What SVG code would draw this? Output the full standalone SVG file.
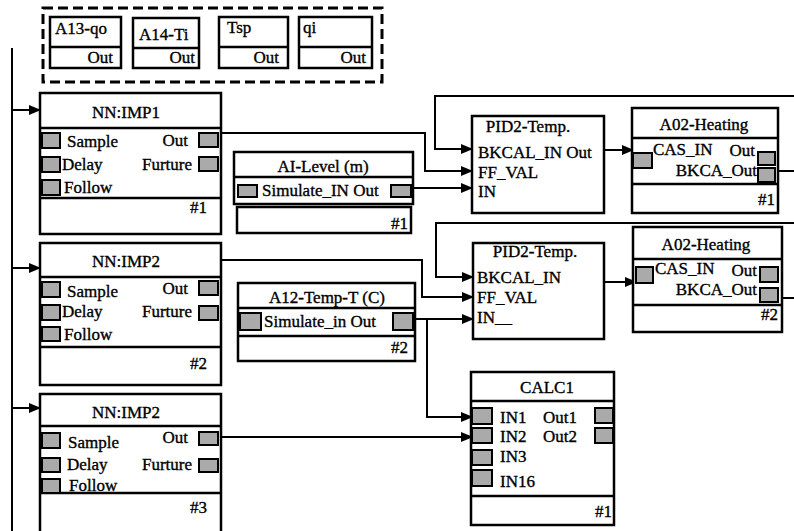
<svg xmlns="http://www.w3.org/2000/svg" width="794" height="531" viewBox="0 0 794 531" font-family="Liberation Serif, Tinos, Times New Roman, DejaVu Serif, serif">
<style>
.box{fill:#fff;stroke:#000;stroke-width:2.5}
.ln{fill:none;stroke:#000;stroke-width:2.5}
.port{fill:#aaa;stroke:#000;stroke-width:2}
.t{font-size:17px;fill:#000;stroke:#000;stroke-width:0.35}
.c{text-anchor:middle}
.r{text-anchor:end}
.wire{fill:none;stroke:#000;stroke-width:2}
.arr{marker-end:url(#ah)}
</style>
<defs>
<marker id="ah" markerWidth="12" markerHeight="10" refX="11" refY="5" orient="auto" markerUnits="userSpaceOnUse"><path d="M0,0 L12,5 L0,10 z" fill="#000"/></marker>
</defs>
<rect width="794" height="531" fill="#fff"/>

<g id="palette">
<rect x="43" y="8" width="339" height="74" fill="none" stroke="#000" stroke-width="3" stroke-dasharray="10,5"/>
<rect class="box" x="50" y="17" width="71" height="51"/><line class="ln" x1="50" y1="47" x2="121" y2="47"/>
<text class="t" x="55" y="34">A13-qo</text><text class="t r" x="113" y="63">Out</text>
<rect class="box" x="133" y="18" width="66" height="50"/><line class="ln" x1="133" y1="48" x2="199" y2="48"/>
<text class="t" x="139" y="40">A14-Ti</text><text class="t r" x="195" y="63">Out</text>
<rect class="box" x="219" y="17" width="69" height="51"/><line class="ln" x1="219" y1="47" x2="288" y2="47"/>
<text class="t" x="227" y="33">Tsp</text><text class="t r" x="279" y="63">Out</text>
<rect class="box" x="299" y="17" width="73" height="51"/><line class="ln" x1="299" y1="47" x2="372" y2="47"/>
<text class="t" x="303" y="33">qi</text><text class="t r" x="366" y="63">Out</text>
</g>

<g id="connectors">
<path class="wire" d="M12,48 V531"/>
<path class="wire arr" d="M12,110 H40"/>
<path class="wire arr" d="M12,268 H40"/>
<path class="wire arr" d="M12,408 H40"/>
<path class="wire arr" d="M221,133 H425 V171 H472"/>
<path class="wire arr" d="M411,188 H472"/>
<path class="wire arr" d="M794,96 H435 V149 H472"/>
<path class="wire arr" d="M604,150 H633"/>
<path class="wire" d="M775,171 H794"/>
<path class="wire arr" d="M221,260 H422 V297 H473"/>
<path class="wire arr" d="M794,223 H436 V277 H473"/>
<path class="wire arr" d="M413,319 H473"/>
<path class="wire arr" d="M427,319 V417 H472"/>
<path class="wire arr" d="M604,282 H636"/>
<path class="wire" d="M778,298 H794"/>
<path class="wire arr" d="M219,437 H472"/>
</g>

<g id="nn1">
<rect class="box" x="40" y="93" width="181" height="141"/>
<line class="ln" x1="40" y1="128" x2="221" y2="128"/><line class="ln" x1="40" y1="198" x2="221" y2="198"/>
<rect class="port" x="42" y="133" width="18" height="15"/><rect class="port" x="42" y="157" width="18" height="15"/><rect class="port" x="42" y="180" width="18" height="15"/>
<rect class="port" x="199" y="133" width="19" height="14"/><rect class="port" x="199" y="157" width="19" height="14"/>
<text class="t c" x="126" y="118">NN:IMP1</text>
<text class="t" x="67" y="147">Sample</text><text class="t r" x="188" y="146">Out</text>
<text class="t" x="62" y="170">Delay</text><text class="t r" x="192" y="170">Furture</text>
<text class="t" x="64" y="193">Follow</text>
<text class="t r" x="207" y="213">#1</text>
</g>

<g id="nn2">
<rect class="box" x="40" y="243" width="181" height="142"/>
<line class="ln" x1="40" y1="277" x2="221" y2="277"/><line class="ln" x1="40" y1="347" x2="221" y2="347"/>
<rect class="port" x="42" y="282" width="18" height="15"/><rect class="port" x="42" y="305" width="18" height="15"/><rect class="port" x="42" y="327" width="18" height="14"/>
<rect class="port" x="199" y="281" width="19" height="14"/><rect class="port" x="199" y="306" width="19" height="14"/>
<text class="t c" x="126" y="267">NN:IMP2</text>
<text class="t" x="67" y="297">Sample</text><text class="t r" x="188" y="294">Out</text>
<text class="t" x="62" y="317">Delay</text><text class="t r" x="192" y="317">Furture</text>
<text class="t" x="64" y="340">Follow</text>
<text class="t r" x="207" y="369">#2</text>
</g>

<g id="nn3">
<rect class="box" x="40" y="394" width="181" height="142"/>
<line class="ln" x1="40" y1="426" x2="221" y2="426"/><line class="ln" x1="40" y1="493" x2="221" y2="493"/>
<rect class="port" x="42" y="433" width="18" height="15"/><rect class="port" x="42" y="458" width="18" height="14"/><rect class="port" x="42" y="479" width="18" height="14"/>
<rect class="port" x="199" y="432" width="19" height="13"/><rect class="port" x="199" y="459" width="19" height="13"/>
<text class="t c" x="126" y="418">NN:IMP2</text>
<text class="t" x="68" y="448">Sample</text><text class="t r" x="188" y="443">Out</text>
<text class="t" x="67" y="470">Delay</text><text class="t r" x="192" y="470">Furture</text>
<text class="t" x="69" y="491">Follow</text>
<text class="t r" x="207" y="513">#3</text>
</g>

<g id="ai1">
<rect class="box" x="234" y="152" width="179" height="52"/>
<line class="ln" x1="234" y1="177" x2="413" y2="177"/>
<rect class="box" x="237" y="207" width="174" height="26"/>
<rect class="port" x="238" y="185" width="19" height="12"/><rect class="port" x="391" y="185" width="20" height="12"/>
<text class="t c" x="323" y="172">AI-Level (m)</text>
<text class="t" x="262" y="196">Simulate_IN Out</text>
<text class="t r" x="408" y="229">#1</text>
</g>

<g id="a12">
<rect class="box" x="238" y="283" width="177" height="78"/>
<line class="ln" x1="238" y1="308" x2="415" y2="308"/><line class="ln" x1="238" y1="336" x2="415" y2="336"/>
<rect class="port" x="240" y="313" width="21" height="17"/><rect class="port" x="393" y="313" width="20" height="17"/>
<text class="t c" x="327" y="303">A12-Temp-T (C)</text>
<text class="t" x="264" y="327">Simulate_in Out</text>
<text class="t r" x="408" y="353">#2</text>
</g>

<g id="pid1">
<rect class="box" x="472" y="116" width="132" height="97"/>
<text class="t c" x="528" y="132">PID2-Temp.</text>
<text class="t" x="478" y="158">BKCAL_IN Out</text>
<text class="t" x="478" y="178">FF_VAL</text>
<text class="t" x="478" y="197">IN</text>
</g>

<g id="pid2">
<rect class="box" x="473" y="243" width="131" height="96"/>
<text class="t c" x="535" y="257">PID2-Temp.</text>
<text class="t" x="477" y="283">BKCAL_IN</text>
<text class="t" x="477" y="303">FF_VAL</text>
<text class="t" x="477" y="323">IN__</text>
</g>

<g id="a02_1">
<rect class="box" x="632" y="108" width="146" height="105"/>
<line class="ln" x1="632" y1="138" x2="778" y2="138"/><line class="ln" x1="632" y1="184" x2="778" y2="184"/>
<rect class="port" x="633" y="153" width="19" height="15"/>
<rect class="port" x="758" y="152" width="17" height="13"/><rect class="port" x="758" y="168" width="17" height="14"/>
<text class="t c" x="704" y="130">A02-Heating</text>
<text class="t" x="653" y="155">CAS_IN</text><text class="t r" x="755" y="156">Out</text>
<text class="t r" x="757" y="176">BKCA_Out</text>
<text class="t r" x="775" y="205">#1</text>
</g>

<g id="a02_2">
<rect class="box" x="633" y="227" width="149" height="105"/>
<line class="ln" x1="633" y1="259" x2="782" y2="259"/><line class="ln" x1="633" y1="305" x2="782" y2="305"/>
<rect class="port" x="636" y="267" width="17" height="16"/>
<rect class="port" x="760" y="267" width="18" height="15"/><rect class="port" x="760" y="288" width="18" height="14"/>
<text class="t c" x="706" y="250">A02-Heating</text>
<text class="t" x="655" y="274">CAS_IN</text><text class="t r" x="757" y="276">Out</text>
<text class="t r" x="757" y="295">BKCA_Out</text>
<text class="t r" x="778" y="320">#2</text>
</g>

<g id="calc1">
<rect class="box" x="471" y="372" width="143" height="153"/>
<line class="ln" x1="471" y1="401" x2="614" y2="401"/><line class="ln" x1="471" y1="496" x2="614" y2="496"/>
<rect class="port" x="472" y="408" width="20" height="16"/><rect class="port" x="472" y="428" width="20" height="15"/>
<rect class="port" x="472" y="450" width="20" height="15"/><rect class="port" x="472" y="470" width="20" height="16"/>
<rect class="port" x="595" y="408" width="18" height="15"/><rect class="port" x="595" y="428" width="18" height="15"/>
<text class="t c" x="547" y="393">CALC1</text>
<text class="t" x="500" y="423">IN1</text><text class="t" x="543" y="423">Out1</text>
<text class="t" x="500" y="442">IN2</text><text class="t" x="543" y="442">Out2</text>
<text class="t" x="500" y="462">IN3</text>
<text class="t" x="500" y="487">IN16</text>
<text class="t r" x="612" y="517">#1</text>
</g>
</svg>
